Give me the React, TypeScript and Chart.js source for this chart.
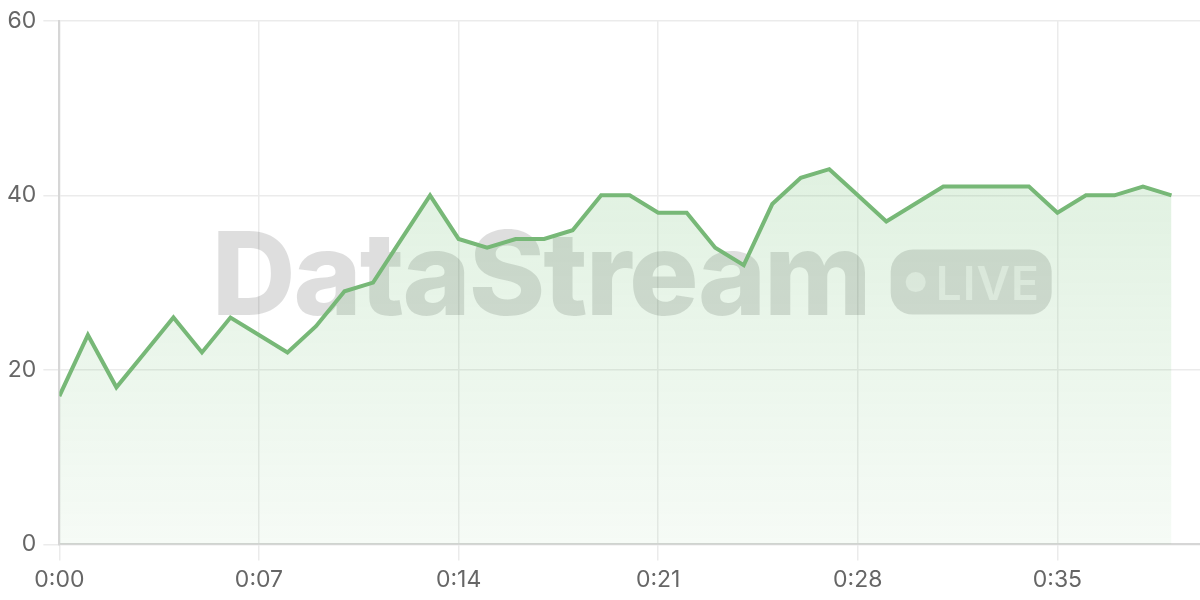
import { useEffect, useRef } from "react";
import Chart from "chart.js/auto";

// seconds since start of the stream
const seconds = [
  0, 1, 2, 3, 4, 5, 6, 7, 8, 9, 10, 11, 12, 13, 14, 15, 16, 17, 18, 19,
  20, 21, 22, 23, 24, 25, 26, 27, 28, 29, 30, 31, 32, 33, 34, 35, 36, 37, 38, 39,
];
const values = [
  17, 24, 18, 22, 26, 22, 26, 24, 22, 25, 29, 30, 35, 40, 35, 34, 35, 35, 36, 40,
  40, 38, 38, 34, 32, 39, 42, 43, 40, 37, 39, 41, 41, 41, 41, 38, 40, 40, 41, 40,
];
const xTicks = [0, 7, 14, 21, 28, 35];
const yTicks = [0, 20, 40, 60];

const LINE = "#77b877";
const FONT = "'Inter', 'Open Sans', sans-serif";

const fmtTime = (v: number) => `0:${String(v).padStart(2, "0")}`;

// big faint "DataStream • LIVE" mark behind the line
const watermark = {
  id: "watermark",
  beforeDatasetsDraw(chart: Chart) {
    const { ctx, chartArea } = chart;
    const cx = (chartArea.left + chartArea.right) / 2;
    const cy = (chartArea.top + chartArea.bottom) / 2;
    ctx.save();
    ctx.fillStyle = "rgba(0,0,0,0.13)";
    ctx.textBaseline = "alphabetic";
    ctx.textAlign = "left";
    ctx.font = `800 116px ${FONT}`;
    const text = "DataStream";
    const w = ctx.measureText(text).width;
    const target = 660;
    (ctx as any).letterSpacing = `${(target - w) / (text.length - 1)}px`;
    const left = cx - 418;
    const base = cy + 32;
    ctx.fillText(text, left, base);

    // pill
    const px = cx + 261;
    const py = base - 65;
    const pw = 161;
    const ph = 65;
    ctx.beginPath();
    ctx.roundRect(px, py, pw, ph, 22);
    ctx.fill();
    ctx.fillStyle = "rgba(255,255,255,0.55)";
    ctx.beginPath();
    ctx.arc(px + 25, py + ph / 2, 10, 0, Math.PI * 2);
    ctx.fill();
    (ctx as any).letterSpacing = "1px";
    ctx.font = `600 46px ${FONT}`;
    ctx.fillText("LIVE", px + 45, py + 50);
    ctx.restore();
  },
};

const StreamChart = () => {
  const canvasRef = useRef<HTMLCanvasElement>(null);

  useEffect(() => {
    if (!canvasRef.current) return;
    const chart = new Chart(canvasRef.current, {
      type: "line",
      data: {
        datasets: [
          {
            data: seconds.map((s, i) => ({ x: s, y: values[i] })),
            borderColor: LINE,
            borderWidth: 4,
            pointRadius: 0,
            tension: 0,
            fill: "origin",
            backgroundColor: (c: any) => {
              const area = c.chart.chartArea;
              if (!area) return "rgba(76,175,80,0.1)";
              const g = c.chart.ctx.createLinearGradient(0, area.top, 0, area.bottom);
              g.addColorStop(0, "rgba(76,175,80,0.22)");
              g.addColorStop(1, "rgba(76,175,80,0.05)");
              return g;
            },
          },
        ],
      },
      options: {
        animation: false,
        responsive: true,
        maintainAspectRatio: false,
        layout: { padding: { top: 4.5, right: 0, left: 0, bottom: 0 } },
        plugins: { legend: { display: false }, tooltip: { enabled: false } },
        scales: {
          x: {
            type: "linear",
            min: 0,
            max: 40,
            afterBuildTicks: (scale: any) => {
              scale.ticks = xTicks.map((v) => ({ value: v }));
            },
            grid: { color: "#ebebeb", lineWidth: 1.5, tickLength: 16 },
            border: { color: "#d6d6d6", width: 2 },
            ticks: {
              color: "#666",
              font: { family: FONT, size: 23 },
              padding: 6,
              maxRotation: 0,
              callback: (v: any) => fmtTime(Number(v)),
            },
          },
          y: {
            min: 0,
            max: 60,
            afterBuildTicks: (scale: any) => {
              scale.ticks = yTicks.map((v) => ({ value: v }));
            },
            grid: { color: "#ebebeb", lineWidth: 1.5, tickLength: 16 },
            border: { color: "#d6d6d6", width: 2 },
            ticks: {
              color: "#666",
              font: { family: FONT, size: 23 },
              padding: 7,
            },
          },
        },
      },
      plugins: [watermark],
    });
    return () => chart.destroy();
  }, []);

  return (
    <div style={{ position: "relative", width: 1200, height: 600 }}>
      <canvas ref={canvasRef} />
    </div>
  );
};

export default function App() {
  useEffect(() => {
    document.body.style.margin = "0";
  }, []);
  return <StreamChart />;
}
